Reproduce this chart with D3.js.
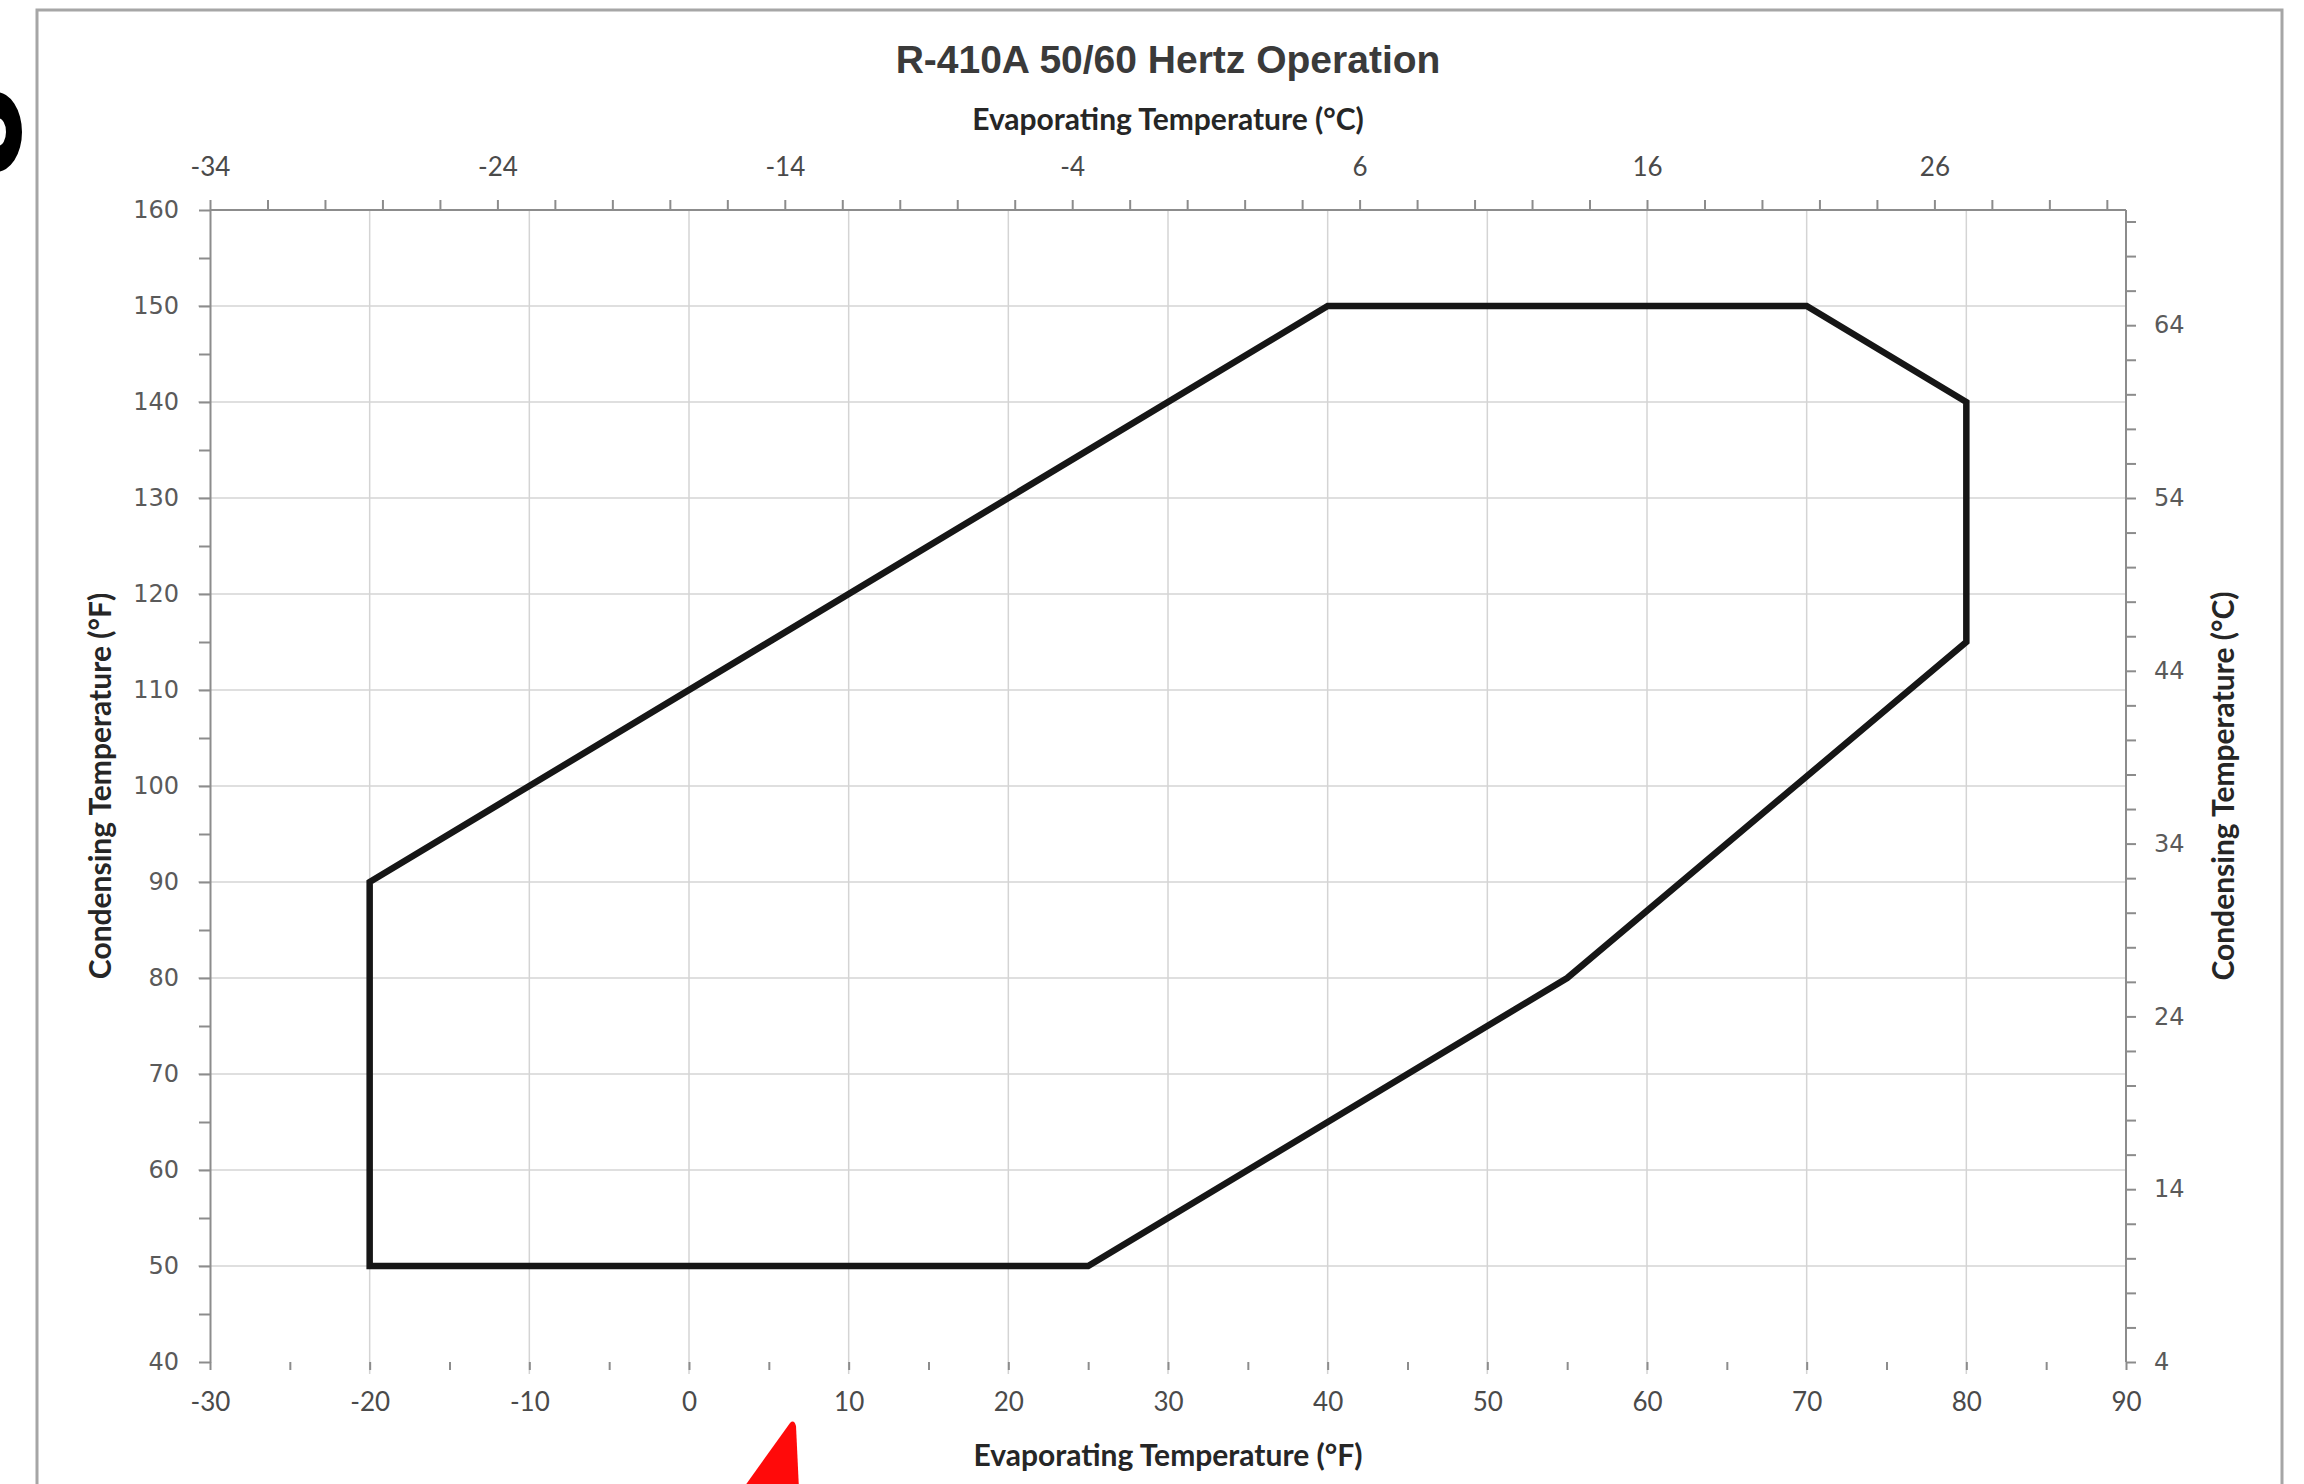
<!DOCTYPE html>
<html>
<head>
<meta charset="utf-8">
<script src="https://cdn.jsdelivr.net/npm/d3@7"></script>
<style>
  html, body { margin: 0; padding: 0; background: #fff; }
  svg { display: block; }
  .grid line { stroke: #d4d4d4; stroke-width: 1.5; }
  .axis path, .axis line { stroke: #8c8c8c; stroke-width: 2; }
  .flab text { font-family: "DejaVu Sans", sans-serif; font-size: 24px; fill: #5a5a5a; }
  .clab text { font-family: Lato, sans-serif; font-size: 26px; fill: #4a4a4a; }
  .title { font-family: "Liberation Sans", Arial, sans-serif; font-weight: bold; font-size: 39px; fill: #3a3a3a; }
  .axtitle { font-family: Lato, sans-serif; font-weight: bold; font-size: 30px; fill: #262626; }
</style>
</head>
<body>
<div id="chart"></div>
<script>
// operating envelope, evaporating vs condensing temperature (°F)
const envelopeEvapF = [-20, 40, 70, 80, 80, 55, 25, -20];
const envelopeCondF = [90, 150, 150, 140, 115, 80, 50, 50];

const evapTicksF = [-30, -20, -10, 0, 10, 20, 30, 40, 50, 60, 70, 80, 90];
const condTicksF = [40, 50, 60, 70, 80, 90, 100, 110, 120, 130, 140, 150, 160];
const evapTicksC = [-34, -24, -14, -4, 6, 16, 26];
const condTicksC = [4, 14, 24, 34, 44, 54, 64];

const chartTitle = 'R-410A 50/60 Hertz Operation';
const evapTitleC = 'Evaporating Temperature (°C)';
const evapTitleF = 'Evaporating Temperature (°F)';
const condTitleF = 'Condensing Temperature (°F)';
const condTitleC = 'Condensing Temperature (°C)';

const width = 2304;
const height = 1484;
const plot = { left: 210, right: 2126, top: 210, bottom: 1362 };

const svg = d3.select('#chart')
  .append('svg')
    .attr('width', width)
    .attr('height', height);

// outer chart frame
svg.append('rect')
  .attr('x', 37).attr('y', 10)
  .attr('width', 2282 - 37).attr('height', height + 20)
  .attr('fill', 'none')
  .attr('stroke', '#a6a6a6')
  .attr('stroke-width', 3);

const xF = d3.scaleLinear().domain([-30, 90]).range([plot.left, plot.right]);
const yF = d3.scaleLinear().domain([40, 160]).range([plot.bottom, plot.top]);
// celsius axes span the same range, °C = (°F - 32) / 1.8
const xC = d3.scaleLinear().domain([-34, -34 + 120 / 1.8]).range([plot.left, plot.right]);
const yC = d3.scaleLinear().domain([4, 4 + 120 / 1.8]).range([plot.bottom, plot.top]);

const ph = plot.bottom - plot.top;
const fmt = d => String(d);

// gridlines
const grid = svg.append('g').classed('grid', true);
grid.selectAll('.v').data(evapTicksF.slice(1, -1)).enter()
  .append('line')
    .attr('x1', d => xF(d)).attr('x2', d => xF(d))
    .attr('y1', plot.top).attr('y2', plot.bottom + 12);
grid.selectAll('.h').data(condTicksF.slice(1, -1)).enter()
  .append('line')
    .attr('x1', plot.left - 12).attr('x2', plot.right)
    .attr('y1', d => yF(d)).attr('y2', d => yF(d));

const minorF = d3.range(-30, 91, 5);
const minorCondF = d3.range(40, 161, 5);
const minorC = d3.range(-34, 33, 2);
const minorCondC = d3.range(4, 71, 2);

// left axis (°F)
svg.append('g').classed('axis', true)
  .attr('transform', `translate(${plot.left},0)`)
  .call(d3.axisLeft(yF).tickValues(minorCondF).tickSize(11).tickSizeOuter(0).tickFormat(''));
svg.append('g').classed('flab', true)
  .attr('transform', `translate(${plot.left},0)`)
  .call(d3.axisLeft(yF).tickValues(condTicksF).tickSize(0).tickPadding(31).tickFormat(fmt))
  .call(g => g.select('.domain').remove());

// bottom axis (°F), no axis line
const bottomAxis = svg.append('g').classed('axis', true)
  .attr('transform', `translate(0,${plot.bottom})`)
  .call(d3.axisBottom(xF).tickValues(minorF).tickSize(8).tickSizeOuter(0).tickFormat(''));
bottomAxis.select('.domain').remove();
svg.append('g').classed('clab', true)
  .attr('transform', `translate(0,${plot.bottom})`)
  .call(d3.axisBottom(xF).tickValues(evapTicksF).tickSize(0).tickPadding(31).tickFormat(fmt))
  .call(g => g.select('.domain').remove());

// top axis (°C)
svg.append('g').classed('axis', true)
  .attr('transform', `translate(0,${plot.top})`)
  .call(d3.axisTop(xC).tickValues(minorC).tickSize(10).tickSizeOuter(0).tickFormat(''))
  .call(g => g.select('.domain').attr('d', `M${plot.left},0H${plot.right}`));
svg.append('g').classed('clab', true)
  .attr('transform', `translate(0,${plot.top})`)
  .call(d3.axisTop(xC).tickValues(evapTicksC).tickSize(0).tickPadding(34).tickFormat(fmt))
  .call(g => g.select('.domain').remove());

// right axis (°C)
svg.append('g').classed('axis', true)
  .attr('transform', `translate(${plot.right},0)`)
  .call(d3.axisRight(yC).tickValues(minorCondC).tickSize(10).tickSizeOuter(0).tickFormat(''))
  .call(g => g.select('.domain').attr('d', `M0,${plot.top}V${plot.bottom}`));
svg.append('g').classed('flab', true)
  .attr('transform', `translate(${plot.right},0)`)
  .call(d3.axisRight(yC).tickValues(condTicksC).tickSize(0).tickPadding(28).tickFormat(fmt))
  .call(g => g.select('.domain').remove());

svg.selectAll('.flab .tick line, .clab .tick line').remove();

// envelope
const pts = envelopeEvapF.map((e, i) => [e, envelopeCondF[i]]);
const line = d3.line().x(d => xF(d[0])).y(d => yF(d[1]));
svg.append('path')
  .attr('d', line(pts) + 'Z')
  .attr('fill', 'none')
  .attr('stroke', '#161616')
  .attr('stroke-width', 6.5)
  .attr('stroke-linejoin', 'miter');

// titles
const cx = (plot.left + plot.right) / 2;
svg.append('text').classed('title', true)
  .attr('x', cx).attr('y', 73).attr('text-anchor', 'middle').text(chartTitle);
svg.append('text').classed('axtitle', true)
  .attr('x', cx).attr('y', 130).attr('text-anchor', 'middle').text(evapTitleC);
svg.append('text').classed('axtitle', true)
  .attr('x', cx).attr('y', 1466).attr('text-anchor', 'middle').text(evapTitleF);
svg.append('text').classed('axtitle', true)
  .attr('transform', `translate(111,${plot.top + ph * 0.5}) rotate(-90)`)
  .attr('text-anchor', 'middle').text(condTitleF);
svg.append('text').classed('axtitle', true)
  .attr('transform', `translate(2234,${plot.top + ph * 0.5}) rotate(-90)`)
  .attr('text-anchor', 'middle').text(condTitleC);

// cropped artefacts at the edges of the screenshot
svg.append('path')
  .attr('d', 'M-30,132a26,40 0 1,0 52,0a26,40 0 1,0 -52,0Z M-10,132a8,14 0 1,0 16,0a8,14 0 1,0 -16,0Z')
  .attr('fill', '#000')
  .attr('fill-rule', 'evenodd');
svg.append('path')
  .attr('d', 'M790,1423 Q794,1419 796,1426 L799,1490 L742,1490 Z')
  .attr('fill', '#ff0a0a');
</script>
</body>
</html>
